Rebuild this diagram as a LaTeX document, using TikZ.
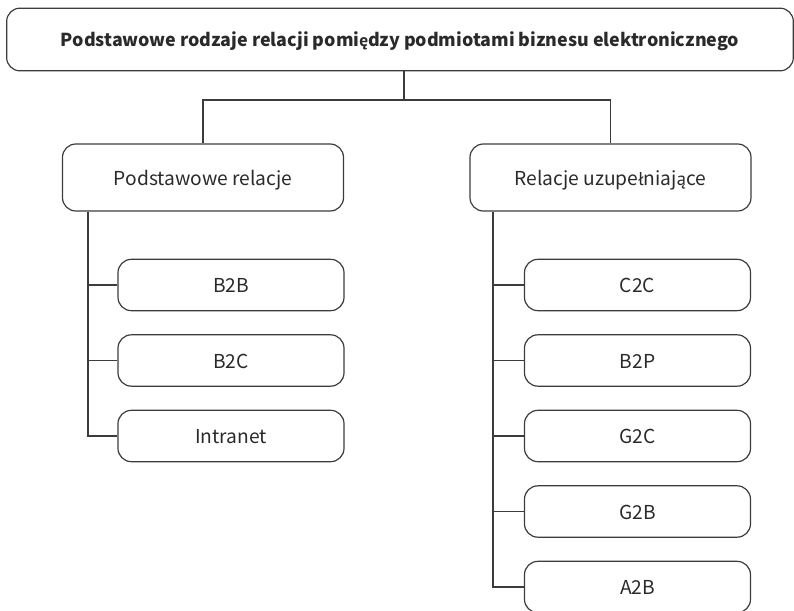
\documentclass[tikz,border=0pt]{standalone}
\usepackage{fontspec}
\setmainfont{Noto Sans CJK SC}
% Polish letters missing from the main family
\newfontfamily\plfont[Scale=0.97]{PT Sans}
\newcommand{\pl}[1]{{\plfont #1}}
\definecolor{linegray}{HTML}{3C3C3C}
\definecolor{textgray}{HTML}{2A2A2A}
\begin{document}
\begin{tikzpicture}[x=0.75pt, y=-0.75pt,
  box/.style={draw=linegray, line width=0.9pt, rounded corners=10pt,
    text=textgray, inner sep=0pt, align=center,
    text height=11.6pt, text depth=0pt,
    font=\fontsize{14.4}{16}\selectfont},
  headbox/.style={box, minimum width=590pt, minimum height=47pt,
    text height=11.2pt, font=\bfseries\fontsize{13.4}{16}\selectfont},
  groupbox/.style={box, minimum width=210.75pt, minimum height=50.25pt},
  leafbox/.style={box, minimum width=169.5pt, minimum height=38.5pt},
  link/.style={draw=linegray, line width=0.9pt}]
\useasboundingbox (0,0) rectangle (794,611);

% root
\node[headbox] (root) at (400,39.5) {Podstawowe rodzaje relacji pomi\pl{ę}dzy podmiotami biznesu elektronicznego};

% groups
\node[groupbox] (basic) at (203,177.5) {Podstawowe relacje};
\node[groupbox] (extra) at (610.5,177.5) {Relacje uzupe\pl{ł}niaj\pl{ą}ce};

% basic relations
\node[leafbox] (b2b) at (231,285) {B2B};
\node[leafbox] (b2c) at (231,360.5) {B2C};
\node[leafbox] (intra) at (231,436) {Intranet};

% complementary relations
\node[leafbox] (c2c) at (637.5,285) {C2C};
\node[leafbox] (b2p) at (637.5,360.5) {B2P};
\node[leafbox] (g2c) at (637.5,436) {G2C};
\node[leafbox] (g2b) at (637.5,511.5) {G2B};
\node[leafbox] (a2b) at (637.5,587) {A2B};

% junctions and spines
\coordinate (join) at (404,100);
\coordinate (spineL) at (88,0);
\coordinate (spineR) at (493,0);

\draw[link] (root.south -| join) -- (join);
\draw[link] (basic.north) -- (basic.north |- join) -- (extra.north |- join) -- (extra.north);

\draw[link] (basic.south -| spineL) |- (intra.west);
\foreach \n in {b2b,b2c}
  \draw[link] (\n.west) -- (\n.west -| spineL);

\draw[link] (extra.south -| spineR) |- (a2b.west);
\foreach \n in {c2c,b2p,g2c,g2b}
  \draw[link] (\n.west) -- (\n.west -| spineR);
\end{tikzpicture}
\end{document}
